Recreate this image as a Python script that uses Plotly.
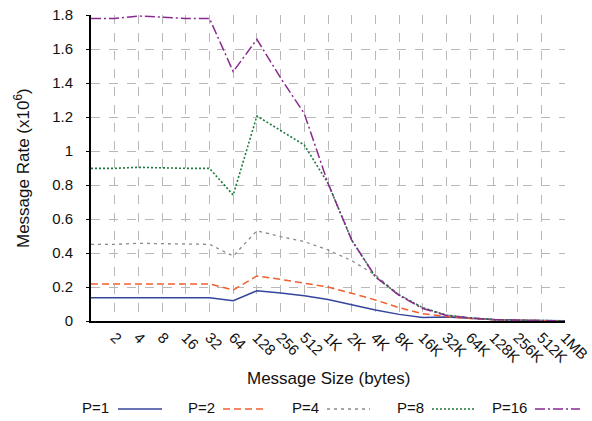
import plotly.graph_objects as go

sizes = ["1", "2", "4", "8", "16", "32", "64", "128", "256", "512", "1K", "2K", "4K",
         "8K", "16K", "32K", "64K", "128K", "256K", "512K", "1MB"]

p1 = [0.137, 0.137, 0.139, 0.138, 0.137, 0.137, 0.119, 0.178, 0.165, 0.149, 0.127, 0.094,
      0.065, 0.039, 0.021, 0.024, 0.016, 0.009, 0.005, 0.003, 0.002]
p2 = [0.218, 0.218, 0.219, 0.218, 0.218, 0.218, 0.182, 0.265, 0.245, 0.222, 0.200, 0.163,
      0.124, 0.078, 0.043, 0.027, 0.014, 0.008, 0.004, 0.002, 0.001]
p4 = [0.451, 0.451, 0.457, 0.455, 0.451, 0.451, 0.382, 0.531, 0.496, 0.467, 0.418, 0.355,
      0.27, 0.155, 0.078, 0.035, 0.018, 0.008, 0.004, 0.002, 0.001]
p8 = [0.898, 0.898, 0.904, 0.900, 0.898, 0.898, 0.741, 1.206, 1.12, 1.035, 0.81, 0.476,
      0.26, 0.153, 0.078, 0.034, 0.018, 0.008, 0.004, 0.002, 0.001]
p16 = [1.780, 1.780, 1.794, 1.786, 1.780, 1.780, 1.467, 1.657, 1.43, 1.22, 0.81, 0.476,
       0.26, 0.151, 0.073, 0.033, 0.018, 0.008, 0.004, 0.002, 0.001]

series = [
    ("P=1", p1, "#34459b", "solid", 1.5),
    ("P=2", p2, "#f2602e", "7px,4px", 1.5),
    ("P=4", p4, "#8a8a8a", "3px,4px", 1.3),
    ("P=8", p8, "#1d7a3e", "2px,2px", 1.6),
    ("P=16", p16, "#8a2a8e", "10px,3px,2px,3px", 1.5),
]

xs = list(range(len(sizes)))
fig = go.Figure()
for name, vals, color, dash, w in series:
    fig.add_trace(go.Scatter(x=xs, y=vals, mode="lines", name=name,
                             line=dict(color=color, dash=dash, width=w),
                             showlegend=False))

font = "Liberation Sans, Arial, Helvetica, sans-serif"

W, H = 592, 421
L, R, T, B = 91, 565, 15, 321          # plot area in pixels


def px(x):
    return (x - L) / (R - L)


def py(y):
    return (B - y) / (B - T)


leg_text_x = [80, 186, 290, 395, 490]
leg_line_x = [(118, 162), (223, 265), (327, 370), (432, 475), (535, 580)]
leg_y = 408

for (name, vals, color, dash, w), tx, (lx0, lx1) in zip(series, leg_text_x, leg_line_x):
    fig.add_annotation(x=px(tx), y=py(leg_y), xref="paper", yref="paper", text=name,
                       showarrow=False, xanchor="left", yanchor="middle",
                       font=dict(size=15, color="#111", family=font))
    fig.add_shape(type="line", xref="paper", yref="paper",
                  x0=px(lx0), x1=px(lx1), y0=py(leg_y + 1), y1=py(leg_y + 1),
                  line=dict(color=color, dash=dash, width=w))

fig.add_annotation(x=px(328), y=py(378), xref="paper", yref="paper",
                   text="Message Size (bytes)", showarrow=False,
                   xanchor="center", yanchor="middle",
                   font=dict(size=17, color="#111", family=font))
fig.add_annotation(x=px(22), y=py(168), xref="paper", yref="paper",
                   text="Message Rate (x10<sup>6</sup>)", showarrow=False,
                   textangle=-90, xanchor="center", yanchor="middle",
                   font=dict(size=17, color="#111", family=font))

fig.update_layout(
    width=W, height=H,
    margin=dict(l=L, r=W - R, t=T, b=H - B, autoexpand=False),
    paper_bgcolor="white", plot_bgcolor="white",
    font=dict(family=font, size=15, color="#111"),
)
fig.update_xaxes(
    range=[0, len(sizes) - 1], tickmode="array", tickvals=xs,
    ticktext=[""] + sizes[1:], tickangle=45, automargin=False,
    ticklabeloverflow="allow",
    showgrid=True, gridcolor="#b8b8b8", griddash="dash", gridwidth=1,
    showline=True, linecolor="black", linewidth=2,
    ticks="", zeroline=False, tickfont=dict(size=15, family=font),
)
fig.update_yaxes(
    range=[0, 1.8], tickmode="array", automargin=False,
    ticklabeloverflow="allow",
    tickvals=[0, 0.2, 0.4, 0.6, 0.8, 1.0, 1.2, 1.4, 1.6, 1.8],
    ticktext=["0", "0.2", "0.4", "0.6", "0.8", "1", "1.2", "1.4", "1.6", "1.8"],
    showgrid=True, gridcolor="#b8b8b8", griddash="dash", gridwidth=1,
    showline=True, linecolor="black", linewidth=2,
    ticks="outside", ticklen=3, tickcolor="black", zeroline=False,
    tickfont=dict(size=15, family=font), ticklabelstandoff=10,
)

fig.write_html("out.html", config={"displayModeBar": False},
               post_script="document.body.style.margin='0';document.body.style.overflow='hidden';")
